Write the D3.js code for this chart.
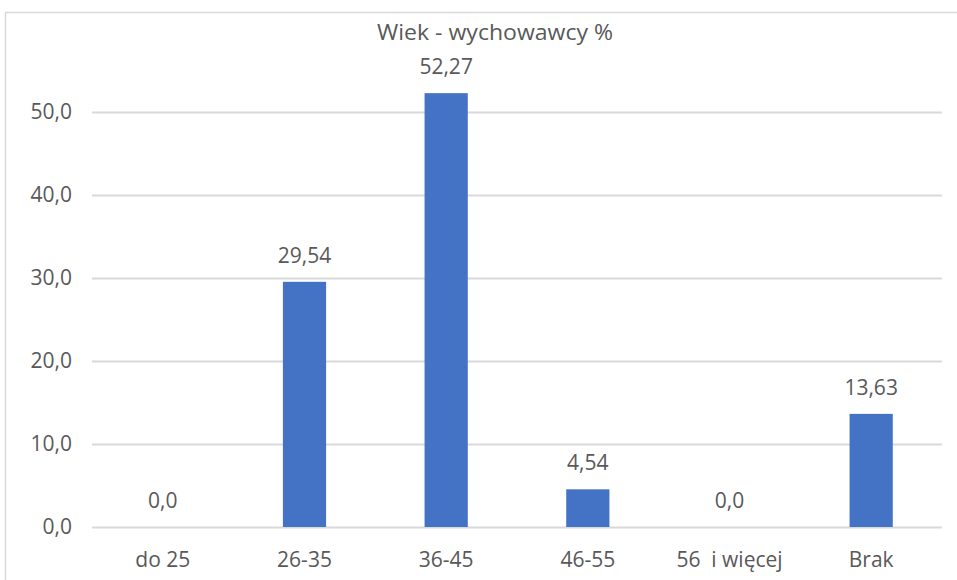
<!DOCTYPE html>
<html>
<head>
<meta charset="utf-8">
<script src="https://cdn.jsdelivr.net/npm/d3@7"></script>
<style>
  html, body { margin: 0; padding: 0; background: #ffffff; }
  svg { display: block; }
</style>
</head>
<body>
<svg id="chart" width="957" height="580"></svg>
<script>
// Age groups of class tutors (percent)
const categories = ["do 25", "26-35", "36-45", "46-55", "56  i więcej", "Brak"];
const values = [0.0, 29.54, 52.27, 4.54, 0.0, 13.63];
const valueLabels = ["0,0", "29,54", "52,27", "4,54", "0,0", "13,63"];
const yTicks = [0, 10, 20, 30, 40, 50];
const yTickLabels = ["0,0", "10,0", "20,0", "30,0", "40,0", "50,0"];
const title = "Wiek - wychowawcy %";

const svg = d3.select("#chart");
const textColor = "#595959";
const gridColor = "#d9d9d9";
const barColor = "#4472C4";
const tickFont = "'Segoe UI', 'Open Sans', 'Noto Sans', sans-serif";
const fontSize = "21px";

const plot = { left: 92, right: 942, top: 112, bottom: 527 };

// Outer chart frame (runs off the right and bottom edges)
svg.append("path")
  .attr("d", "M5.5,590 L5.5,12.5 L980,12.5")
  .attr("fill", "none")
  .attr("stroke", gridColor)
  .attr("stroke-width", 1.5);

const x = d3.scaleBand()
  .domain(categories)
  .range([plot.left, plot.right])
  .paddingInner(0.695)
  .paddingOuter(0.3475);

const y = d3.scaleLinear()
  .domain([0, 50])
  .range([plot.bottom, plot.top]);

// Horizontal gridlines and value axis labels
const yAxis = d3.axisLeft(y)
  .tickValues(yTicks)
  .tickSize(-(plot.right - plot.left))
  .tickPadding(20)
  .tickFormat((d, i) => yTickLabels[i]);

const gy = svg.append("g")
  .attr("transform", `translate(${plot.left},0)`)
  .call(yAxis);
gy.select(".domain").remove();
gy.selectAll(".tick line").attr("stroke", gridColor).attr("stroke-width", 2);
gy.selectAll(".tick text")
  .attr("fill", textColor)
  .style("font-family", tickFont)
  .style("font-size", fontSize);

// Category axis labels
const xAxis = d3.axisBottom(x).tickSize(0).tickPadding(25);
const gx = svg.append("g")
  .attr("transform", `translate(0,${plot.bottom})`)
  .call(xAxis);
gx.select(".domain").remove();
gx.selectAll(".tick text")
  .attr("fill", textColor)
  .style("font-family", tickFont)
  .style("font-size", fontSize)
  .attr("xml:space", "preserve")
  .style("white-space", "pre");

// Bars
svg.append("g")
  .selectAll("rect")
  .data(values)
  .join("rect")
  .attr("x", (d, i) => x(categories[i]))
  .attr("width", x.bandwidth())
  .attr("y", d => y(d))
  .attr("height", d => y(0) - y(d))
  .attr("fill", barColor);

// Value labels above bars
svg.append("g")
  .selectAll("text")
  .data(values)
  .join("text")
  .attr("x", (d, i) => x(categories[i]) + x.bandwidth() / 2)
  .attr("y", d => y(d) - 19)
  .attr("text-anchor", "middle")
  .attr("fill", textColor)
  .style("font-family", tickFont)
  .style("font-size", fontSize)
  .text((d, i) => valueLabels[i]);

// Title
svg.append("text")
  .attr("x", 495)
  .attr("y", 40)
  .attr("text-anchor", "middle")
  .attr("fill", textColor)
  .style("font-family", "'Liberation Sans Narrow', 'Open Sans', sans-serif")
  .style("font-size", "22px")
  .attr("textLength", 236)
  .attr("lengthAdjust", "spacingAndGlyphs")
  .text(title);
</script>
</body>
</html>
